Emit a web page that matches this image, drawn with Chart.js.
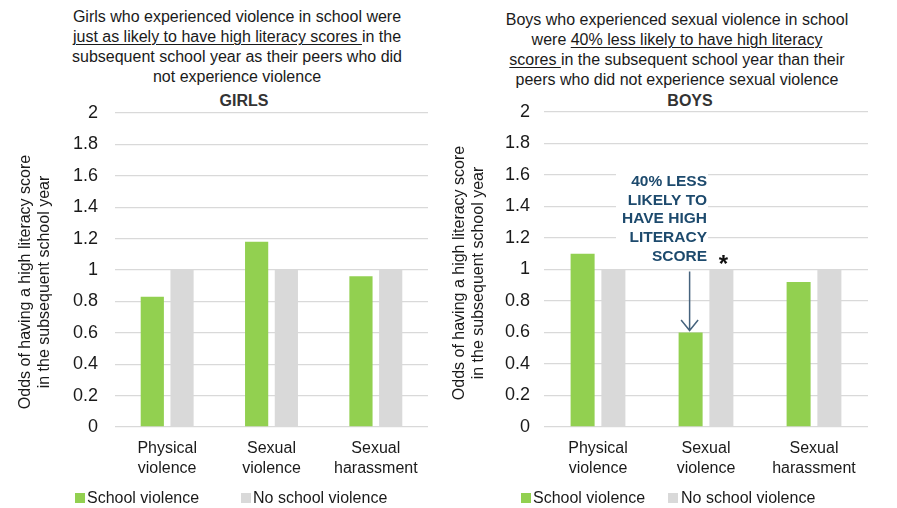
<!DOCTYPE html>
<html>
<head>
<meta charset="utf-8">
<script src="https://cdn.jsdelivr.net/npm/chart.js@4.4.1/dist/chart.umd.min.js"></script>
<style>
html,body{margin:0;padding:0;background:#fff;width:897px;height:508px;overflow:hidden;font-family:"Liberation Sans",Arial,sans-serif;color:#1a1a1a}
canvas{position:absolute;top:0}
.t{position:absolute;text-align:center;font-size:16px;line-height:20px;white-space:nowrap}
.h{position:absolute;font-weight:bold;font-size:16px;line-height:20px;white-space:nowrap;transform:translateX(-50%);color:#333}
.lg{position:absolute;font-size:16px;line-height:20px;white-space:nowrap}
.sw{position:absolute;width:10px;height:10px}
u{text-decoration-thickness:1px;text-underline-offset:2px}
</style>
</head>
<body>
<div class="t" style="left:37px;width:400px;top:7px">Girls who experienced violence in school were<br><u>just as likely to have high literacy scores </u>in the<br>subsequent school year as their peers who did<br>not experience violence</div>
<div class="t" style="left:477px;width:400px;top:10px">Boys who experienced sexual violence in school<br>were <u>40% less likely to have high literacy</u><br><u>scores </u>in the subsequent school year than their<br>peers who did not experience sexual violence</div>
<div class="h" style="left:244px;top:91px">GIRLS</div>
<div class="h" style="left:690px;top:91px">BOYS</div>

<canvas id="girls" width="448" height="508" style="left:0"></canvas>
<canvas id="boys" width="449" height="508" style="left:448px"></canvas>

<div class="sw" style="left:75px;top:493px;background:#92d050"></div>
<div class="lg" style="left:87px;top:488px" id="lg1"></div>
<div class="sw" style="left:241px;top:493px;background:#d9d9d9"></div>
<div class="lg" style="left:253px;top:488px" id="lg2"></div>
<div class="sw" style="left:521px;top:493px;background:#92d050"></div>
<div class="lg" style="left:533px;top:488px" id="lg3"></div>
<div class="sw" style="left:668px;top:493px;background:#d9d9d9"></div>
<div class="lg" style="left:681px;top:488px" id="lg4"></div>

<script>
// ---- data ----
const categories = [['Physical', 'violence'], ['Sexual', 'violence'], ['Sexual', 'harassment']];
const seriesNames = ['School violence', 'No school violence'];
const girlsSchool = [0.83, 1.18, 0.96];
const girlsNoSchool = [1, 1, 1];
const boysSchool = [1.10, 0.60, 0.92];
const boysNoSchool = [1, 1, 1];
const yMin = 0, yMax = 2, yStep = 0.2;
const yTitle = ['Odds of having a high literacy score', 'in the subsequent school year'];
const annotationLines = ['40% LESS', 'LIKELY TO', 'HAVE HIGH', 'LITERACY', 'SCORE'];
const significanceMark = '*';

document.getElementById('lg1').textContent = seriesNames[0];
document.getElementById('lg2').textContent = seriesNames[1];
document.getElementById('lg3').textContent = seriesNames[0];
document.getElementById('lg4').textContent = seriesNames[1];

const FONT = '"Liberation Sans", Arial, sans-serif';
const GREEN = '#92d050', GRAY = '#d9d9d9', TEXT = '#1a1a1a';
Chart.defaults.font.family = FONT;

const yTitlePlugin = {
  id: 'yTitle',
  afterDraw(chart, args, opts) {
    const ctx = chart.ctx;
    ctx.save();
    ctx.font = '16px ' + FONT;
    ctx.fillStyle = TEXT;
    ctx.textAlign = 'center';
    ctx.textBaseline = 'middle';
    ctx.translate(opts.x, opts.y);
    ctx.rotate(-Math.PI / 2);
    yTitle.forEach((line, i) => ctx.fillText(line, 0, i * opts.lh));
    ctx.restore();
  }
};

const annotationPlugin = {
  id: 'annot',
  afterDatasetsDraw(chart) {
    const ctx = chart.ctx;
    const ys = chart.scales.y, xs = chart.scales.x;
    const bar = chart.getDatasetMeta(0).data[1];
    const ref = chart.getDatasetMeta(1).data[1];
    const catX = xs.getPixelForValue(1);
    const y1 = ys.getPixelForValue(1);
    const lh = 18.75;
    const n = annotationLines.length;
    const bottomLine = y1 - 13;
    const topLine = bottomLine - (n - 1) * lh;
    ctx.save();
    // white background behind the note
    ctx.fillStyle = '#ffffff';
    ctx.fillRect(catX - 90, topLine - 14, 92, (bottomLine + 9) - (topLine - 14));
    ctx.fillStyle = '#1d4a6d';
    ctx.font = 'bold 15.5px ' + FONT;
    ctx.textAlign = 'right';
    ctx.textBaseline = 'middle';
    annotationLines.forEach((l, i) => ctx.fillText(l, catX + 1, topLine + i * lh));
    // arrow
    const ax = bar.x - 1;
    const aStart = y1 + 2;
    const aEnd = bar.y - 2;
    ctx.strokeStyle = '#46637d';
    ctx.lineWidth = 1.5;
    ctx.beginPath();
    ctx.moveTo(ax, aStart);
    ctx.lineTo(ax, aEnd);
    ctx.moveTo(ax - 8.5, aEnd - 10.5);
    ctx.lineTo(ax, aEnd);
    ctx.lineTo(ax + 8.5, aEnd - 10.5);
    ctx.stroke();
    // significance asterisk
    ctx.fillStyle = '#111';
    ctx.font = 'bold 24px ' + FONT;
    ctx.textAlign = 'center';
    ctx.textBaseline = 'alphabetic';
    ctx.fillText(significanceMark, ref.x + 2, y1 + 2);
    ctx.restore();
  }
};

function makeChart(id, school, noSchool, cfg, extraPlugins) {
  return new Chart(document.getElementById(id), {
    type: 'bar',
    data: {
      labels: categories,
      datasets: [
        { label: seriesNames[0], data: school, backgroundColor: GREEN, categoryPercentage: 0.57, barPercentage: 0.78 },
        { label: seriesNames[1], data: noSchool, backgroundColor: GRAY, categoryPercentage: 0.57, barPercentage: 0.78 }
      ]
    },
    options: {
      responsive: false,
      animation: false,
      devicePixelRatio: 1,
      layout: { padding: { top: cfg.top, right: cfg.right, bottom: 21, left: 0 } },
      plugins: {
        legend: { display: false },
        tooltip: { enabled: false },
        yTitle: cfg.yTitle
      },
      scales: {
        x: {
          grid: { display: false, drawTicks: false },
          border: { display: false },
          ticks: { color: TEXT, font: { size: 16, lineHeight: 1.25 }, padding: 12, maxRotation: 0, autoSkip: false },
          afterFit(s) { s.height = 60; }
        },
        y: {
          min: yMin, max: yMax,
          grid: { color: GRAY, lineWidth: 1.3, drawTicks: false },
          border: { display: false },
          ticks: {
            stepSize: yStep, color: TEXT, font: { size: 18 }, padding: cfg.tickPad,
            callback: v => String(parseFloat(Number(v).toFixed(1)))
          },
          afterFit(s) { s.width = cfg.yw; }
        }
      }
    },
    plugins: [yTitlePlugin].concat(extraPlugins || [])
  });
}

makeChart('girls', girlsSchool, girlsNoSchool,
  { top: 113, right: 20, yw: 115, tickPad: 17, yTitle: { x: 25.5, y: 282, lh: 19 } });
makeChart('boys', boysSchool, boysNoSchool,
  { top: 112, right: 29, yw: 96, tickPad: 14, yTitle: { x: 11.5, y: 273, lh: 19 } }, [annotationPlugin]);
</script>
</body>
</html>
